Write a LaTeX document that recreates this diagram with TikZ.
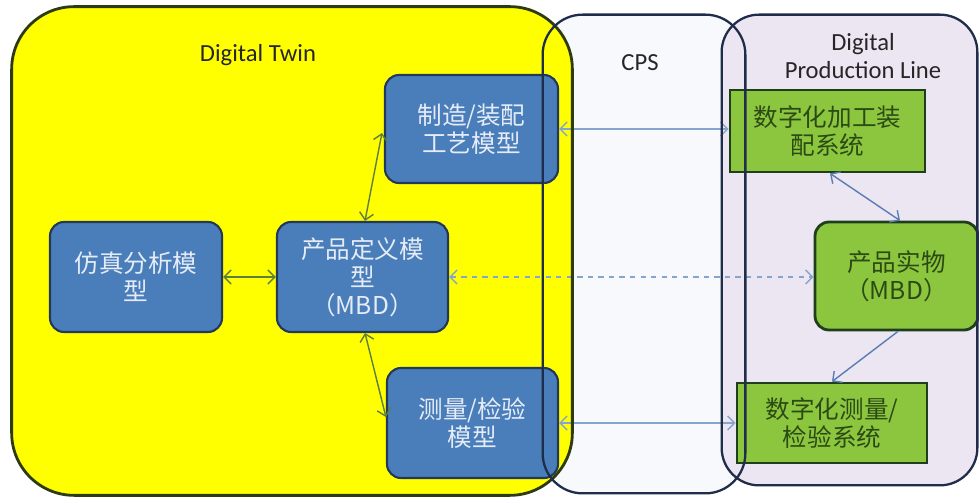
\documentclass[tikz,border=0pt]{standalone}
\usepackage{fontspec}
\setmainfont{Carlito}
\newfontfamily\cjk{Noto Sans CJK SC}
\usepackage{tikz}
\usetikzlibrary{
    arrows.meta, positioning, calc
}
\definecolor{twinfill}{HTML}{FFFF00}
\definecolor{twinframe}{HTML}{2E3B12}
\definecolor{cpsfill}{HTML}{F7F9FC}
\definecolor{zoneframe}{HTML}{1F2D4A}
\definecolor{plfill}{HTML}{ECE5F2}
\definecolor{modelfill}{HTML}{4A7EBB}
\definecolor{modelframe}{HTML}{24385A}
\definecolor{modeltext}{HTML}{E6ECF6}
\definecolor{sysfill}{HTML}{8CC63F}
\definecolor{sysframe}{HTML}{1F3F1C}
\definecolor{systext}{HTML}{2C4A14}
\definecolor{innerarrow}{HTML}{5E7F3C}
\definecolor{linkarrow}{HTML}{86A5CC}
\definecolor{plarrow}{HTML}{5A7DB5}

\begin{document}
\begin{tikzpicture}[
    zone/.style={
        rectangle, inner sep=0pt,
    },
    zonetitle/.style={
        font=\fontsize{14}{16}\selectfont, text=black!85, align=center,
    },
    model/.style={
        rectangle, rounded corners=8pt,
        fill=modelfill, draw=modelframe, line width=1.2pt,
        text=modeltext, font=\fontsize{14}{16}\selectfont\cjk,
        align=center, inner sep=2pt,
    },
    sys/.style={
        rectangle,
        fill=sysfill, draw=sysframe, line width=1.6pt,
        text=systext, font=\fontsize{14}{16}\selectfont\cjk,
        align=center, inner sep=2pt,
    },
    twoway/.style={
        line width=0.8pt,
        {Straight Barb[length=4pt,width=8pt]}-{Straight Barb[length=4pt,width=8pt]},
    },
    oneway/.style={
        line width=0.8pt, -{Straight Barb[length=4pt,width=8pt]},
    },
]
\useasboundingbox[fill=white] (0,0) rectangle (19.58,9.94);

% Zone fills
\node[zone, fill=cpsfill, rounded corners=0.8cm,
      minimum width=4.04cm, minimum height=9.56cm] (cps) at (12.88,4.86) {};
\node[zone, fill=plfill, rounded corners=0.75cm,
      minimum width=5.10cm, minimum height=9.40cm] (dpl) at (16.99,4.94) {};
\node[zone, fill=twinfill, rounded corners=1.25cm,
      minimum width=11.2cm, minimum height=9.76cm] (twin) at (5.84,4.92) {};

% Zone titles
\node[zonetitle] (twinlabel) at (5.16,8.84) {Digital Twin};
\node[zonetitle] (cpslabel)  at (12.80,8.68) {CPS};
\node[zonetitle, font=\fontsize{14}{15.5}\selectfont] (dpllabel) at (17.26,8.82)
    {Digital\\Production Line};

% Models (Digital Twin)
\node[model, minimum width=3.46cm, minimum height=2.16cm] (mfg)  at (9.43,7.36)
    {制造/装配\\工艺模型};
\node[model, minimum width=3.44cm, minimum height=2.20cm] (sim)  at (2.72,4.40)
    {仿真分析模\\型};
\node[model, minimum width=3.42cm, minimum height=2.20cm] (mbd)  at (7.25,4.40)
    {产品定义模\\型\\（MBD）};
\node[model, minimum width=3.42cm, minimum height=2.20cm] (meas) at (9.45,1.48)
    {测量/检验\\模型};

% Systems (Digital Production Line)
\node[sys, minimum width=3.90cm, minimum height=1.64cm] (dmfg)  at (16.55,7.32)
    {数字化加工装\\配系统};
\node[sys, rounded corners=8pt, minimum width=3.26cm, minimum height=2.16cm] (prod)
    at (17.93,4.42) {产品实物\\（MBD）};
\node[sys, minimum width=3.80cm, minimum height=1.60cm] (dmeas) at (16.64,1.48)
    {数字化测量/\\检验系统};

% Connectors inside the twin
\draw[twoway, innerarrow] ($(mfg.west)+(-0.04,-0.08)$) -- ($(mbd.north)+(0.05,0)$);
\draw[twoway, innerarrow] (sim.east) -- (mbd.west);
\draw[twoway, innerarrow] ($(mbd.south)+(0.05,0)$) -- ($(meas.west)+(0,0.12)$);

% Connectors across the CPS
\draw[twoway, linkarrow] (mfg.east) -- (mfg.east -| dmfg.west);
\draw[twoway, linkarrow, dashed] (mbd.east) -- (mbd.east -| prod.west);
\draw[twoway, linkarrow] (meas.east) -- (dmeas.west);

% Connectors inside the production line
\draw[twoway, plarrow] ($(dmfg.south)+(0.05,0)$) -- ($(prod.north)+(0.07,0)$);
\draw[oneway, plarrow] ($(prod.south)+(0.03,0)$) -- (dmeas.north);

% Zone frames on top
\draw[twinframe, line width=1.6pt, rounded corners=1.25cm]
    (twin.south west) rectangle (twin.north east);
\draw[zoneframe, line width=1.3pt, rounded corners=0.8cm]
    (cps.south west) rectangle (cps.north east);
\draw[zoneframe, line width=1.3pt, rounded corners=0.75cm]
    (dpl.south west) rectangle (dpl.north east);

\end{tikzpicture}
\end{document}
